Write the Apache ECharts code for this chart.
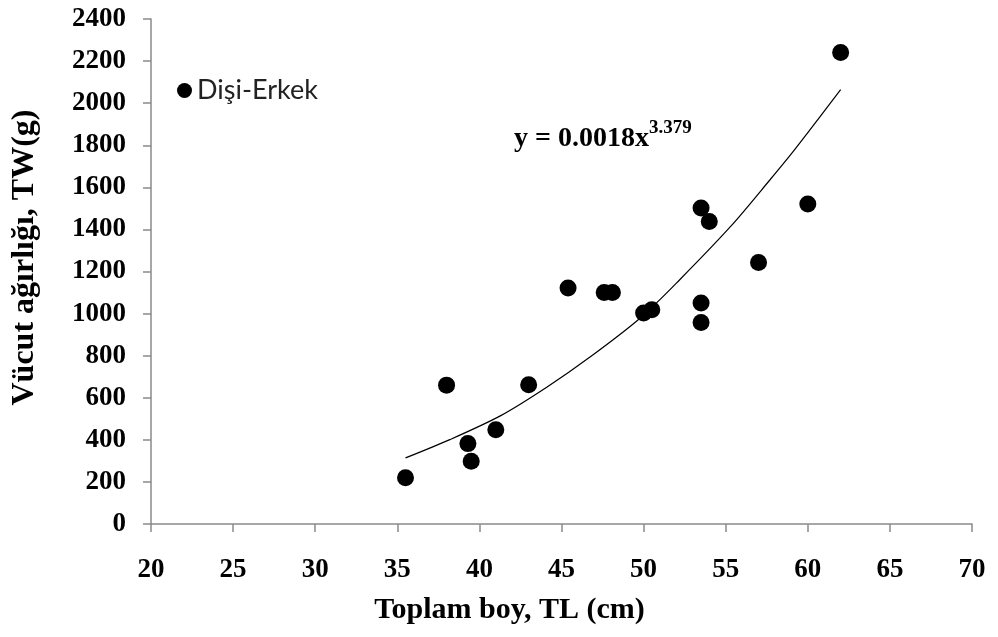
<!DOCTYPE html>
<html>
<head>
<meta charset="utf-8">
<script src="https://cdn.jsdelivr.net/npm/echarts@6/dist/echarts.min.js"></script>
<style>html,body{margin:0;padding:0;background:#fff;}#c{width:998px;height:637px;}</style>
</head>
<body>
<div id="c"></div>
<script>
// Observed points: total length TL (cm) vs body weight TW (g)
var lengthTL = [35.5, 38.0, 39.3, 39.5, 41.0, 43.0, 45.4, 47.6, 48.1, 50.0, 50.5, 53.5, 54.0, 53.5, 53.5, 57.0, 60.0, 62.0];
var weightTW = [220, 660, 382, 298, 448, 662, 1122, 1100, 1100, 1003, 1018, 1502, 1438, 1050, 958, 1243, 1521, 2241];
// Trend line
var trendX = [35.5, 38.2, 41.3, 44.1, 46.8, 49.8, 52.2, 55.3, 57.7, 59.2, 62.0];
var trendY = [314, 401, 515, 650, 797, 979, 1161, 1414, 1636, 1779, 2064];
var xTicks = {min: 20, max: 70, step: 5};
var yTicks = {min: 0, max: 2400, step: 200};
var seriesName = 'Dişi-Erkek';

var pts = lengthTL.map(function (x, i) { return [x, weightTW[i]]; });
var trend = trendX.map(function (x, i) { return [x, trendY[i]]; });

var serif = '"Liberation Serif", "Times New Roman", serif';
var chart = echarts.init(document.getElementById('c'));
chart.setOption({
  animation: false,
  backgroundColor: '#fff',
  grid: {left: 151, right: 26, top: 19, bottom: 113, containLabel: false},
  legend: {
    data: [seriesName],
    left: 172, top: 72,
    icon: 'circle', itemWidth: 15, itemHeight: 15, itemGap: 9,
    textStyle: {fontFamily: 'Lato, "Noto Sans", sans-serif', fontSize: 27, color: '#222'}
  },
  xAxis: {
    type: 'value', min: xTicks.min, max: xTicks.max, interval: xTicks.step,
    name: 'Toplam boy, TL (cm)', nameLocation: 'middle', nameGap: 71,
    nameTextStyle: {fontFamily: serif, fontWeight: 'bold', fontSize: 30, color: '#000', padding: [0, 104, 0, 0]},
    axisLine: {show: true, lineStyle: {color: '#8a8a8a', width: 1.5}},
    axisTick: {show: true, inside: false, length: 8, lineStyle: {color: '#8a8a8a', width: 1.5}},
    axisLabel: {margin: 33, fontFamily: serif, fontWeight: 'bold', fontSize: 27, color: '#000',
      formatter: function (v) { return String(v); }},
    splitLine: {show: false}
  },
  yAxis: {
    type: 'value', min: yTicks.min, max: yTicks.max, interval: yTicks.step,
    name: 'Vücut ağırlığı, TW(g)', nameLocation: 'middle', nameGap: 110, nameRotate: 90,
    nameTextStyle: {fontFamily: serif, fontWeight: 'bold', fontSize: 32, color: '#000', padding: [0, 0, 0, 28]},
    axisLine: {show: true, lineStyle: {color: '#8a8a8a', width: 1.5}},
    axisTick: {show: true, inside: false, length: 8, lineStyle: {color: '#8a8a8a', width: 1.5}},
    axisLabel: {margin: 25, fontFamily: serif, fontWeight: 'bold', fontSize: 27, color: '#000',
      formatter: function (v) { return String(v); }},
    splitLine: {show: false}
  },
  graphic: [{
    type: 'text', left: 514, top: 119, silent: true,
    style: {
      text: '{a|y = 0.0018x}{b|3.379}',
      rich: {
        a: {fontFamily: serif, fontWeight: 'bold', fontSize: 28, fill: '#000', lineHeight: 34, verticalAlign: 'bottom'},
        b: {fontFamily: serif, fontWeight: 'bold', fontSize: 19, fill: '#000', lineHeight: 34, verticalAlign: 'top'}
      }
    }
  }],
  series: [
    {
      name: seriesName, type: 'scatter', data: pts,
      symbol: 'circle', symbolSize: 17,
      itemStyle: {color: '#000', opacity: 1}, z: 3
    },
    {
      name: 'trend', type: 'line', data: trend, smooth: 0.3,
      showSymbol: false, symbol: 'none', silent: true,
      lineStyle: {color: '#000', width: 1.2}, z: 2
    }
  ]
});
</script>
</body>
</html>
